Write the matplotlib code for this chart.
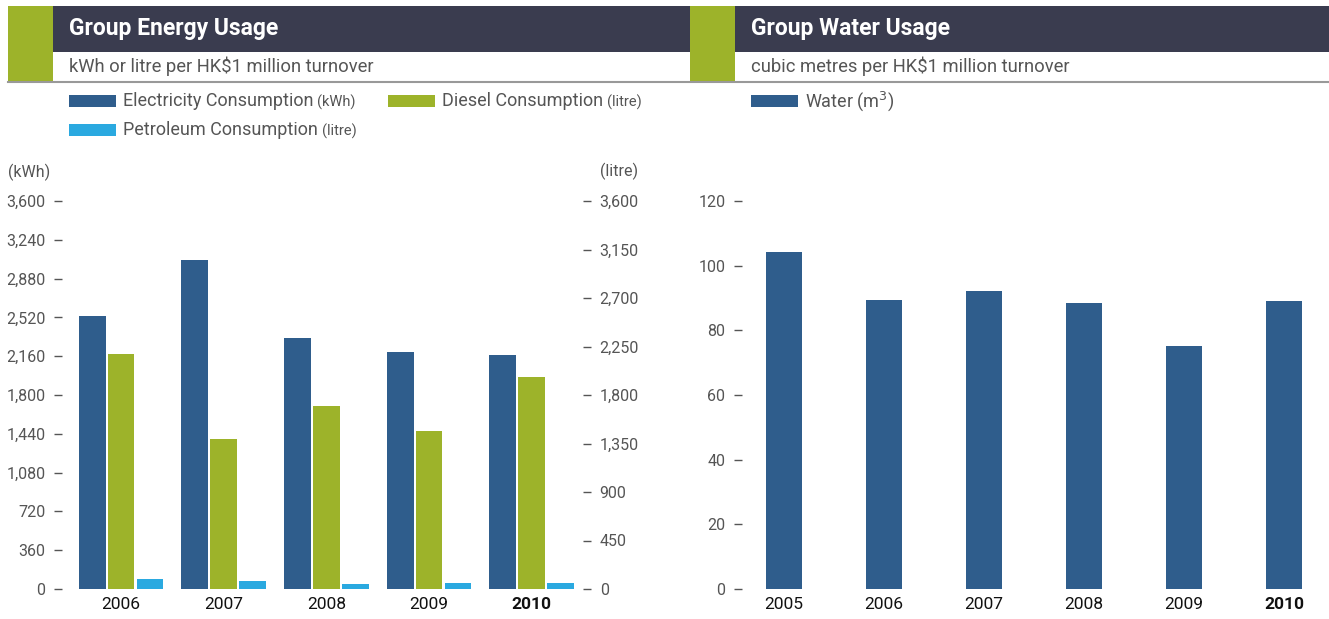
import matplotlib
matplotlib.use("Agg")
import matplotlib.pyplot as plt
from matplotlib.patches import Rectangle
import numpy as np

# energy data (per HK$1 million turnover)
energy_years = ["2006", "2007", "2008", "2009", "2010"]
electricity_kwh = [2533, 3053, 2329, 2199, 2171]
diesel_litre = [2180, 1392, 1698, 1466, 1967]
petroleum_litre = [97, 70, 42, 60, 60]

# water data
water_years = ["2005", "2006", "2007", "2008", "2009", "2010"]
water_m3 = [104.2, 89.4, 92.2, 88.5, 75.2, 89.1]

kwh_ticks = list(range(0, 3601, 360))
litre_ticks = list(range(0, 3601, 450))
water_ticks = list(range(0, 121, 20))

BLUE = "#2f5d8c"
GREEN = "#9db32a"
CYAN = "#2aa9e0"
DARK = "#3a3c4f"
GRAY = "#555555"

W, H = 1329, 619
plt.rcParams["font.family"] = ["Roboto", "DejaVu Sans"]

fig = plt.figure(figsize=(W / 100, H / 100), dpi=100)


def fx(x):
    return x / W


def fy(y):
    return 1 - y / H


def rect(x0, y0, x1, y1, color):
    fig.patches.append(Rectangle((fx(x0), fy(y1)), fx(x1) - fx(x0), fy(y0) - fy(y1),
                                 transform=fig.transFigure, color=color, lw=0))


def header(x0, x1, title, subtitle):
    rect(x0, 6, x0 + 45, 81, GREEN)
    rect(x0 + 45, 6, x1, 52, DARK)
    fig.text(fx(x0 + 61), fy(29), title, color="white", fontsize=16.5, fontweight="bold",
             va="center", ha="left")
    fig.text(fx(x0 + 61), fy(66), subtitle, color=GRAY, fontsize=13.2, va="center", ha="left")


header(8, 690, "Group Energy Usage", "kWh or litre per HK$1 million turnover")
header(690, 1329, "Group Water Usage", "cubic metres per HK$1 million turnover")
fig.lines.append(plt.Line2D([fx(8), 1], [fy(81.5), fy(81.5)], transform=fig.transFigure,
                            color="#999999", lw=1.5))

renderer = fig.canvas.get_renderer()


def legend_item(x, y, color, label, small=None):
    rect(x, y - 6, x + 47, y + 6, color)
    t = fig.text(fx(x + 54), fy(y), label, color=GRAY, fontsize=13, va="center", ha="left")
    if small:
        bb = t.get_window_extent(renderer)
        fig.text(fx(bb.x1 + 4), fy(y + 1), small, color=GRAY, fontsize=10.5, va="center", ha="left")


legend_item(69, 101, BLUE, "Electricity Consumption", "(kWh)")
legend_item(388, 101, GREEN, "Diesel Consumption", "(litre)")
legend_item(69, 130, CYAN, "Petroleum Consumption", "(litre)")
legend_item(751, 101, BLUE, "Water (m$^3$)")


def style_axis(ax):
    for s in ax.spines.values():
        s.set_visible(False)
    ax.tick_params(axis="y", length=6, width=1, color=GRAY, labelcolor=GRAY,
                   labelsize=11.5, pad=6)
    ax.tick_params(axis="x", length=0, labelsize=12.5, pad=6, labelcolor="#111111")


# energy chart
ax = fig.add_axes([fx(62), fy(589), fx(583) - fx(62), fy(201) - fy(589)])
ax2 = ax.twinx()
x = np.arange(len(energy_years))
bw = 0.262
step = 0.282
ax.bar(x - step, electricity_kwh, bw, color=BLUE, lw=0)
ax2.bar(x, diesel_litre, bw, color=GREEN, lw=0)
ax2.bar(x + step, petroleum_litre, bw, color=CYAN, lw=0)
ax.set_xlim(-0.575, 4.5)
ax.set_ylim(0, 3600)
ax2.set_ylim(0, 3600)
ax.set_yticks(kwh_ticks)
ax.set_yticklabels([f"{v:,}" for v in kwh_ticks])
ax2.set_yticks(litre_ticks)
ax2.set_yticklabels([f"{v:,}" for v in litre_ticks])
ax.set_xticks(x)
ax.set_xticklabels(energy_years)
style_axis(ax)
style_axis(ax2)
ax.get_xticklabels()[-1].set_fontweight("bold")
fig.text(fx(8), fy(172), "(kWh)", color=GRAY, fontsize=11.5, va="center", ha="left")
fig.text(fx(638), fy(171), "(litre)", color=GRAY, fontsize=11.5, va="center", ha="right")

# water chart
axw = fig.add_axes([fx(742), fy(589), fx(1312) - fx(742), fy(201) - fy(589)])
xw = np.arange(len(water_years))
axw.bar(xw, water_m3, 0.36, color=BLUE, lw=0)
axw.set_xlim(-0.42, 5.28)
axw.set_ylim(0, 120)
axw.set_yticks(water_ticks)
axw.set_xticks(xw)
axw.set_xticklabels(water_years)
style_axis(axw)
axw.get_xticklabels()[-1].set_fontweight("bold")

fig.savefig("out.png", dpi=100)
